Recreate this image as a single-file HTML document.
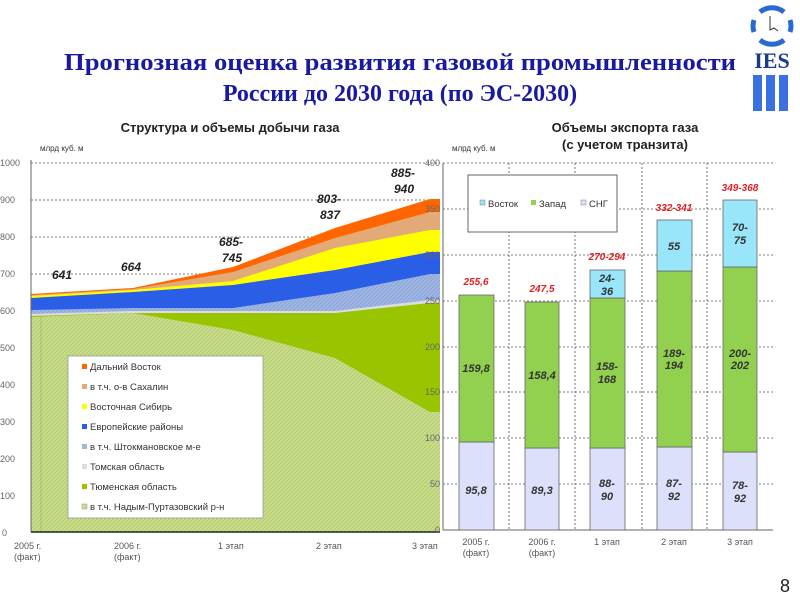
<!DOCTYPE html>
<html><head><meta charset="utf-8"><style>
html,body{margin:0;padding:0;background:#fff;}
svg{display:block;}
</style></head><body>
<svg width="800" height="600" xmlns="http://www.w3.org/2000/svg" font-family="Liberation Sans, sans-serif">
<defs>
<pattern id="hatch" width="4" height="4" patternUnits="userSpaceOnUse"><rect width="4" height="4" fill="#c8dc8a"/><path d="M0,4 L4,0" stroke="#b4cc70" stroke-width="1"/></pattern>
<pattern id="hatchb" width="4" height="4" patternUnits="userSpaceOnUse"><rect width="4" height="4" fill="#9fb6e2"/><path d="M0,4 L4,0" stroke="#8aa5da" stroke-width="1"/></pattern>
</defs>
<!-- title -->
<text x="400" y="70" text-anchor="middle" font-family="Liberation Serif, serif" font-weight="bold" font-size="24" fill="#1a1aa0" textLength="672" lengthAdjust="spacingAndGlyphs">Прогнозная оценка развития газовой промышленности</text>
<text x="400" y="101" text-anchor="middle" font-family="Liberation Serif, serif" font-weight="bold" font-size="24" fill="#1a1aa0">России до 2030 года (по ЭС-2030)</text>
<!-- logo -->
<path d="M760,12 A19,19 0 0 1 784,12" fill="none" stroke="#2a6ad0" stroke-width="5"/>
<path d="M760,40 A19,19 0 0 0 784,40" fill="none" stroke="#2a6ad0" stroke-width="5"/>
<path d="M754,20 A19,19 0 0 0 754,32 M790,20 A19,19 0 0 1 790,32" fill="none" stroke="#2a6ad0" stroke-width="5"/>
<path d="M770,16 L770,30 L774,28 L778,31" fill="none" stroke="#333" stroke-width="1"/>
<text x="772" y="68" text-anchor="middle" font-family="Liberation Serif, serif" font-weight="bold" font-size="22" fill="#1a3a8a">IES</text>
<rect x="753" y="75" width="9" height="36" fill="#3a70e0"/><rect x="766" y="75" width="9" height="36" fill="#3a70e0"/><rect x="779" y="75" width="9" height="36" fill="#3a70e0"/>
<!-- subtitles -->
<text x="230" y="132" text-anchor="middle" font-weight="bold" font-size="13" fill="#222">Структура и объемы добычи газа</text>
<text x="625" y="132" text-anchor="middle" font-weight="bold" font-size="13" fill="#222">Объемы экспорта газа</text>
<text x="625" y="149" text-anchor="middle" font-weight="bold" font-size="13" fill="#222">(с учетом  транзита)</text>
<text x="40" y="151" font-size="8" fill="#333">млрд куб. м</text>
<text x="452" y="151" font-size="8" fill="#333">млрд куб. м</text>
<!-- left gridlines -->
<g stroke="#555" stroke-dasharray="2,2" stroke-width="0.8">
<line x1="31" y1="163" x2="440" y2="163"/><line x1="31" y1="200" x2="440" y2="200"/><line x1="31" y1="237" x2="440" y2="237"/><line x1="31" y1="274" x2="440" y2="274"/><line x1="31" y1="311" x2="440" y2="311"/>
</g>
<!-- stacked areas -->
<polygon points="31,294 133,288 233,267 335,228 430,199 440,199 440,532 31,532" fill="#ff6600"/>
<polygon points="31,295 133,289 233,272 335,238 430,212 440,212 440,532 31,532" fill="#e3aa78"/>
<polygon points="31,296 133,290 233,281 335,248 430,230 440,230 440,532 31,532" fill="#ffff00"/>
<polygon points="31,298 133,292 233,285 335,270 430,252 440,252 440,532 31,532" fill="#2a5ee6"/>
<polygon points="31,310 133,308 233,308 335,293 430,274 440,274 440,532 31,532" fill="url(#hatchb)"/>
<polygon points="31,314 133,311 233,311 335,311 430,300 440,300 440,532 31,532" fill="#dddddd"/>
<polygon points="31,316 133,313 233,313 335,313 430,303 440,303 440,532 31,532" fill="#99c400"/>
<polygon points="31,317 133,313 233,330 335,358 430,412 440,412 440,532 31,532" fill="url(#hatch)"/>
<line x1="41" y1="316" x2="41" y2="532" stroke="#aab860" stroke-width="0.8"/>
<line x1="31" y1="160" x2="31" y2="532" stroke="#666" stroke-width="1"/>
<line x1="31" y1="532" x2="440" y2="532" stroke="#222" stroke-width="1.5"/>
<!-- left axis labels -->
<g font-size="9" fill="#666">
<text x="0" y="166">1000</text><text x="0" y="203">900</text><text x="0" y="240">800</text><text x="0" y="277">700</text><text x="0" y="314">600</text><text x="0" y="351">500</text><text x="0" y="388">400</text><text x="0" y="425">300</text><text x="0" y="462">200</text><text x="0" y="499">100</text><text x="2" y="536">0</text>
</g>
<g font-size="9" fill="#555">
<text x="14" y="549">2005 г.</text><text x="14" y="560">(факт)</text>
<text x="114" y="549">2006 г.</text><text x="114" y="560">(факт)</text>
<text x="218" y="549">1 этап</text><text x="316" y="549">2 этап</text><text x="412" y="549">3 этап</text>
</g>
<!-- value labels -->
<g font-size="12" font-weight="bold" font-style="italic" fill="#222">
<text x="52" y="279">641</text><text x="121" y="271">664</text>
<text x="219" y="246">685-</text><text x="222" y="262">745</text>
<text x="317" y="203">803-</text><text x="320" y="219">837</text>
<text x="391" y="177">885-</text><text x="394" y="193">940</text>
</g>
<!-- left legend -->
<rect x="68" y="356" width="195" height="162" fill="#fff" stroke="#999" stroke-width="0.8"/>
<g font-size="9.5" fill="#333">
<rect x="82" y="364" width="5" height="5" fill="#ff6600"/><text x="90" y="370">Дальний Восток</text>
<rect x="82" y="384" width="5" height="5" fill="#e3aa78"/><text x="90" y="390">в т.ч. о-в Сахалин</text>
<rect x="82" y="404" width="5" height="5" fill="#ffff00"/><text x="90" y="410">Восточная Сибирь</text>
<rect x="82" y="424" width="5" height="5" fill="#2a5ee6"/><text x="90" y="430">Европейские районы</text>
<rect x="82" y="444" width="5" height="5" fill="#9fb6e2"/><text x="90" y="450">в т.ч. Штокмановское м-е</text>
<rect x="82" y="464" width="5" height="5" fill="#ddd"/><text x="90" y="470">Томская область</text>
<rect x="82" y="484" width="5" height="5" fill="#99c400"/><text x="90" y="490">Тюменская область</text>
<rect x="82" y="504" width="5" height="5" fill="#c8dc8a" stroke="#999" stroke-width="0.5"/><text x="90" y="510">в т.ч. Надым-Пуртазовский р-н</text>
</g>
<!-- right chart gridlines -->
<g stroke="#555" stroke-dasharray="2,2" stroke-width="0.8">
<line x1="443" y1="163" x2="773" y2="163"/><line x1="443" y1="209" x2="773" y2="209"/><line x1="443" y1="255" x2="773" y2="255"/><line x1="443" y1="301" x2="773" y2="301"/><line x1="443" y1="347" x2="773" y2="347"/><line x1="443" y1="392" x2="773" y2="392"/><line x1="443" y1="438" x2="773" y2="438"/><line x1="443" y1="484" x2="773" y2="484"/>
<line x1="509" y1="163" x2="509" y2="530"/><line x1="575" y1="163" x2="575" y2="530"/><line x1="642" y1="163" x2="642" y2="530"/><line x1="707" y1="163" x2="707" y2="530"/>
</g>
<line x1="443" y1="163" x2="443" y2="530" stroke="#666"/>
<line x1="443" y1="530" x2="773" y2="530" stroke="#666"/>
<g font-size="9" fill="#666" text-anchor="end">
<text x="440" y="166">400</text><text x="440" y="212">350</text><text x="440" y="258">300</text><text x="440" y="304">250</text><text x="440" y="350">200</text><text x="440" y="395">150</text><text x="440" y="441">100</text><text x="440" y="487">50</text><text x="440" y="533">0</text>
</g>
<!-- bars -->
<g stroke="#666" stroke-width="0.8">
<rect x="459" y="442" width="35" height="88" fill="#dde0fa"/><rect x="459" y="295" width="35" height="147" fill="#92d050"/>
<rect x="525" y="448" width="34" height="82" fill="#dde0fa"/><rect x="525" y="302" width="34" height="146" fill="#92d050"/>
<rect x="590" y="448" width="35" height="82" fill="#dde0fa"/><rect x="590" y="298" width="35" height="150" fill="#92d050"/><rect x="590" y="270" width="35" height="28" fill="#99e6fa"/>
<rect x="657" y="447" width="35" height="83" fill="#dde0fa"/><rect x="657" y="271" width="35" height="176" fill="#92d050"/><rect x="657" y="220" width="35" height="51" fill="#99e6fa"/>
<rect x="723" y="452" width="34" height="78" fill="#dde0fa"/><rect x="723" y="267" width="34" height="185" fill="#92d050"/><rect x="723" y="200" width="34" height="67" fill="#99e6fa"/>
</g>
<g font-size="11" font-weight="bold" font-style="italic" fill="#333" text-anchor="middle">
<text x="476" y="494">95,8</text><text x="542" y="494">89,3</text><text x="607" y="487">88-</text><text x="607" y="500">90</text><text x="674" y="487">87-</text><text x="674" y="500">92</text><text x="740" y="489">78-</text><text x="740" y="502">92</text>
<text x="476" y="372">159,8</text><text x="542" y="379">158,4</text><text x="607" y="370">158-</text><text x="607" y="383">168</text><text x="674" y="357">189-</text><text x="674" y="369">194</text><text x="740" y="357">200-</text><text x="740" y="369">202</text>
<text x="607" y="282">24-</text><text x="607" y="295">36</text><text x="674" y="250">55</text><text x="740" y="231">70-</text><text x="740" y="244">75</text>
</g>
<g font-size="10" font-weight="bold" font-style="italic" fill="#e02020" text-anchor="middle">
<text x="476" y="285">255,6</text><text x="542" y="292">247,5</text><text x="607" y="260">270-294</text><text x="674" y="211">332-341</text><text x="740" y="191">349-368</text>
</g>
<!-- right legend -->
<rect x="468" y="175" width="149" height="57" fill="#fff" stroke="#666" stroke-width="1"/>
<g font-size="9.5" fill="#333">
<rect x="480" y="200" width="5" height="5" fill="#99e6fa" stroke="#666" stroke-width="0.4"/><text x="488" y="207">Восток</text>
<rect x="531" y="200" width="5" height="5" fill="#92d050"/><text x="539" y="207">Запад</text>
<rect x="581" y="200" width="5" height="5" fill="#dde0fa" stroke="#666" stroke-width="0.4"/><text x="589" y="207">СНГ</text>
</g>
<g font-size="9" fill="#555" text-anchor="middle">
<text x="476" y="545">2005 г.</text><text x="476" y="556">(факт)</text>
<text x="542" y="545">2006 г.</text><text x="542" y="556">(факт)</text>
<text x="607" y="545">1 этап</text><text x="674" y="545">2 этап</text><text x="740" y="545">3 этап</text>
</g>
<text x="780" y="592" font-size="18" fill="#222">8</text>
</svg>
</body></html>
